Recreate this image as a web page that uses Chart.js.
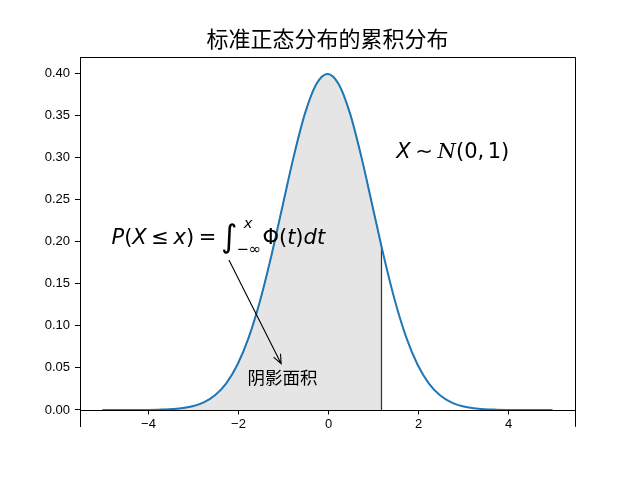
<!DOCTYPE html>
<html lang="zh">
<head>
    <meta charset="UTF-8">
    <title>标准正态分布的累积分布</title>
    <script src="https://cdn.jsdelivr.net/npm/chart.js"></script>
    <style>
        html, body { margin: 0; padding: 0; background: #fff; }
        #wrap { width: 640px; height: 480px; }
    </style>
</head>
<body>
<div id="wrap"><canvas id="normChart" width="640" height="480"></canvas></div>
<script>
// 曲线上的点 (x, 密度)
const xValues = [-5, -4.75, -4.5, -4.25, -4, -3.75, -3.5, -3.25, -3, -2.75, -2.5, -2.25,
    -2, -1.75, -1.5, -1.25, -1, -0.75, -0.5, -0.25, 0, 0.25, 0.5, 0.75, 1, 1.25, 1.5,
    1.75, 2, 2.25, 2.5, 2.75, 3, 3.25, 3.5, 3.75, 4, 4.25, 4.5, 4.75, 5];
const density = [0, 0, 0, 0, 0.0001, 0.0004, 0.0009, 0.0020, 0.0044, 0.0091, 0.0175, 0.0317,
    0.0540, 0.0863, 0.1295, 0.1826, 0.2420, 0.3011, 0.3521, 0.3867, 0.3989, 0.3867, 0.3521,
    0.3011, 0.2420, 0.1826, 0.1295, 0.0863, 0.0540, 0.0317, 0.0175, 0.0091, 0.0044, 0.0020,
    0.0009, 0.0004, 0.0001, 0, 0, 0, 0];

// 阴影的右边界
const cutX = 1.2;
const cutY = 0.1942;

const xTicks = [-4, -2, 0, 2, 4];
const yTicks = [0, 0.05, 0.10, 0.15, 0.20, 0.25, 0.30, 0.35, 0.40];

const titleText = '标准正态分布的累积分布';
const shadeLabel = '阴影面积';

const curvePts = xValues.map((x, i) => ({ x: x, y: density[i] }));
const shadePts = curvePts.filter(p => p.x < cutX).concat([{ x: cutX, y: cutY }]);
const cutLine = [{ x: cutX, y: 0 }, { x: cutX, y: cutY }];

const CJK = '"Noto Sans CJK SC", sans-serif';
const NUM = '"Liberation Sans", Arial, sans-serif';
const MATH = '"DejaVu Sans"';

// 公式一段一段画
function drawPieces(ctx, pieces, x, y, size) {
    let cx = x;
    pieces.forEach(p => {
        if (p.gap) { cx += p.gap * size; return; }
        if (p.sub !== undefined) {
            const s = size * 0.7;
            ctx.font = 'italic ' + s + 'px ' + MATH;
            const w1 = ctx.measureText(p.sup).width;
            ctx.fillText(p.sup, cx + 0.3 * size, y - 0.78 * size);
            ctx.font = s + 'px ' + MATH;
            const w2 = ctx.measureText(p.sub).width;
            ctx.fillText(p.sub, cx - 0.05 * size, y + 0.45 * size);
            cx += Math.max(w1 + 0.3 * size, w2) + 0.02 * size;
            return;
        }
        const fs = size * (p.scale || 1);
        ctx.font = (p.it ? 'italic ' : '') + fs + 'px ' + (p.fam || MATH);
        ctx.fillText(p.t, cx, y + (p.dy || 0) * size);
        cx += ctx.measureText(p.t).width;
    });
    return cx - x;
}

const decor = {
    id: 'decor',
    afterDatasetsDraw(chart) {
        const { ctx, chartArea: a, scales: { x, y } } = chart;
        const y0 = Math.round(y.getPixelForValue(0)) + 0.5;
        ctx.save();
        ctx.strokeStyle = '#000';
        ctx.lineWidth = 1;
        // 上、右边框和 y=0 处的横轴
        ctx.beginPath();
        ctx.moveTo(a.left, Math.round(a.top) + 0.5);
        ctx.lineTo(a.right, Math.round(a.top) + 0.5);
        ctx.moveTo(Math.round(a.right) + 0.5, a.top);
        ctx.lineTo(Math.round(a.right) + 0.5, a.bottom);
        ctx.moveTo(a.left, y0);
        ctx.lineTo(a.right, y0);
        ctx.stroke();

        ctx.fillStyle = '#000';
        ctx.font = '13px ' + NUM;
        ctx.textAlign = 'center';
        ctx.textBaseline = 'alphabetic';
        xTicks.forEach(v => {
            const px = Math.round(x.getPixelForValue(v)) + 0.5;
            ctx.beginPath();
            ctx.moveTo(px, y0);
            ctx.lineTo(px, y0 + 4);
            ctx.stroke();
            ctx.fillText(v < 0 ? '\u2212' + Math.abs(v) : String(v), px, y0 + 17);
        });

        // 标题
        ctx.font = '22px ' + CJK;
        ctx.fillText(titleText, (a.left + a.right) / 2, 47);
        ctx.restore();
    },
    afterDraw(chart) {
        const { ctx, scales: { x, y } } = chart;
        ctx.save();
        ctx.fillStyle = '#000';
        ctx.textAlign = 'left';
        ctx.textBaseline = 'alphabetic';

        // X ~ N(0,1)
        drawPieces(ctx, [
            { t: 'X', it: true }, { gap: 0.22 }, { t: '\u223C' }, { gap: 0.22 },
            { t: 'N', it: true, fam: '"DejaVu Serif"' }, { t: '(0,' }, { gap: 0.17 }, { t: '1)' }
        ], x.getPixelForValue(1.53), y.getPixelForValue(0.299), 21);

        // P(X <= x) = 积分
        drawPieces(ctx, [
            { t: 'P', it: true }, { t: '(' }, { t: 'X', it: true }, { gap: 0.22 }, { t: '\u2264' },
            { gap: 0.22 }, { t: 'x', it: true }, { t: ')' }, { gap: 0.22 }, { t: '=' }, { gap: 0.22 },
            { t: '\u222B', scale: 1.5, dy: 0.12 }, { sub: '\u2212\u221E', sup: 'x' },
            { t: '\u03A6' }, { t: '(' }, { t: 't', it: true }, { t: ')' }, { t: 'd', it: true }, { t: 't', it: true }
        ], x.getPixelForValue(-4.8), y.getPixelForValue(0.197), 21);

        // 箭头
        const tx = x.getPixelForValue(-2.19), ty = y.getPixelForValue(0.178);
        const hx = x.getPixelForValue(-1.03), hy = y.getPixelForValue(0.055);
        const ang = Math.atan2(hy - ty, hx - tx);
        const hl = 10, hw = 0.4;
        ctx.strokeStyle = '#000';
        ctx.lineWidth = 1.1;
        ctx.beginPath();
        ctx.moveTo(tx, ty);
        ctx.lineTo(hx, hy);
        ctx.moveTo(hx - hl * Math.cos(ang - hw), hy - hl * Math.sin(ang - hw));
        ctx.lineTo(hx, hy);
        ctx.lineTo(hx - hl * Math.cos(ang + hw), hy - hl * Math.sin(ang + hw));
        ctx.stroke();

        ctx.font = '17.5px ' + CJK;
        ctx.fillText(shadeLabel, x.getPixelForValue(-1.78), y.getPixelForValue(0.031));
        ctx.restore();
    }
};

new Chart(document.getElementById('normChart'), {
    type: 'scatter',
    data: {
        datasets: [
            {
                data: curvePts,
                showLine: true,
                borderColor: '#1f77b4',
                borderWidth: 2,
                pointRadius: 0,
                cubicInterpolationMode: 'monotone',
                fill: false
            },
            {
                data: cutLine,
                showLine: true,
                borderColor: '#333333',
                borderWidth: 1.2,
                pointRadius: 0,
                fill: false
            },
            {
                data: shadePts,
                showLine: true,
                borderColor: '#555555',
                borderWidth: 1,
                backgroundColor: '#e5e5e5',
                pointRadius: 0,
                cubicInterpolationMode: 'monotone',
                fill: 'origin'
            }
        ]
    },
    options: {
        responsive: false,
        animation: false,
        layout: { padding: { left: 0, right: 65, top: 57.2, bottom: 53.2 } },
        plugins: {
            legend: { display: false },
            tooltip: { enabled: false },
            title: { display: false }
        },
        scales: {
            x: {
                type: 'linear',
                display: false,
                min: -5.5,
                max: 5.5
            },
            y: {
                type: 'linear',
                min: -0.01995,
                max: 0.41884,
                afterBuildTicks(scale) {
                    scale.ticks = yTicks.map(v => ({ value: v }));
                },
                afterFit(scale) { scale.width = 80; },
                grid: {
                    drawOnChartArea: false,
                    tickLength: 5,
                    tickColor: '#000',
                    tickWidth: 1
                },
                border: { display: true, color: '#000', width: 1 },
                ticks: {
                    color: '#000',
                    padding: 5,
                    font: { family: NUM, size: 13 },
                    callback: v => v.toFixed(2)
                }
            }
        }
    },
    plugins: [decor]
});
</script>
</body>
</html>
